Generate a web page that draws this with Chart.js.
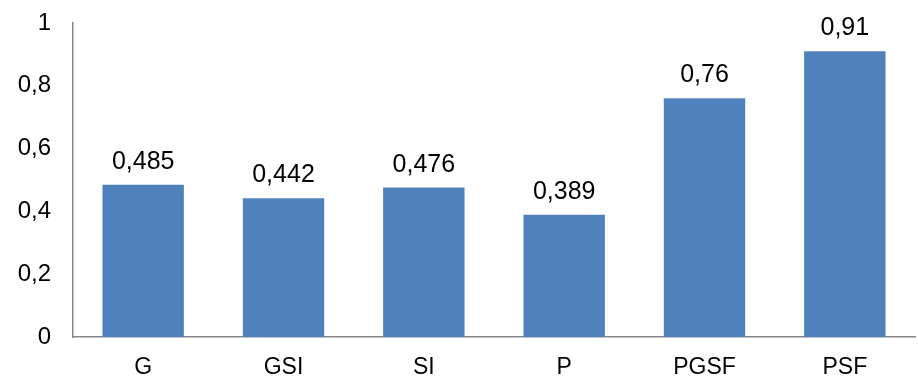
<!DOCTYPE html>
<html>
<head>
<meta charset="utf-8">
<script src="https://cdn.jsdelivr.net/npm/chart.js@4/dist/chart.umd.min.js"></script>
<style>
  html, body { margin: 0; padding: 0; background: #ffffff; }
  #wrap { width: 918px; height: 382px; }
</style>
</head>
<body>
<div id="wrap"><canvas id="chart" width="918" height="382"></canvas></div>
<script>
const categories = ['G', 'GSI', 'SI', 'P', 'PGSF', 'PSF'];
const values = [0.485, 0.442, 0.476, 0.389, 0.76, 0.91];
const yTicks = [0, 0.2, 0.4, 0.6, 0.8, 1];

const FONT = '"Liberation Sans", Arial, sans-serif';
const fmt = v => String(v).replace('.', ',');

// Value labels above each bar, in decimal-comma format
const valueLabels = {
  id: 'valueLabels',
  afterDatasetsDraw(chart) {
    const ctx = chart.ctx;
    const meta = chart.getDatasetMeta(0);
    ctx.save();
    ctx.font = '25px ' + FONT;
    ctx.fillStyle = '#000000';
    ctx.textAlign = 'center';
    ctx.textBaseline = 'alphabetic';
    meta.data.forEach((bar, i) => {
      ctx.fillText(fmt(values[i]), bar.x, bar.y - 16);
    });
    ctx.restore();
  }
};

new Chart(document.getElementById('chart'), {
  type: 'bar',
  data: {
    labels: categories,
    datasets: [{
      data: values,
      backgroundColor: '#4F81BD',
      borderWidth: 0,
      barPercentage: 0.58,
      categoryPercentage: 1.0
    }]
  },
  options: {
    responsive: false,
    animation: false,
    devicePixelRatio: 1,
    layout: { padding: { top: 23, right: 3, bottom: 0, left: 0 } },
    plugins: {
      legend: { display: false },
      tooltip: { enabled: false }
    },
    scales: {
      x: {
        grid: { display: false, drawTicks: false },
        border: { display: true, color: '#868686', width: 1.5 },
        ticks: {
          color: '#000000',
          padding: 17,
          font: { family: FONT, size: 23 }
        },
        afterFit(scale) { scale.height = 45; }
      },
      y: {
        min: 0,
        max: 1,
        grid: { display: false, drawTicks: false },
        border: { display: true, color: '#868686', width: 1.5 },
        afterBuildTicks(scale) {
          scale.ticks = yTicks.map(v => ({ value: v }));
        },
        ticks: {
          color: '#000000',
          padding: 22,
          font: { family: FONT, size: 24 },
          callback: v => fmt(v)
        },
        afterFit(scale) {
          scale.width = 73;
          scale.paddingTop = 0;
          scale.paddingBottom = 0;
        }
      }
    }
  },
  plugins: [valueLabels]
});
</script>
</body>
</html>
